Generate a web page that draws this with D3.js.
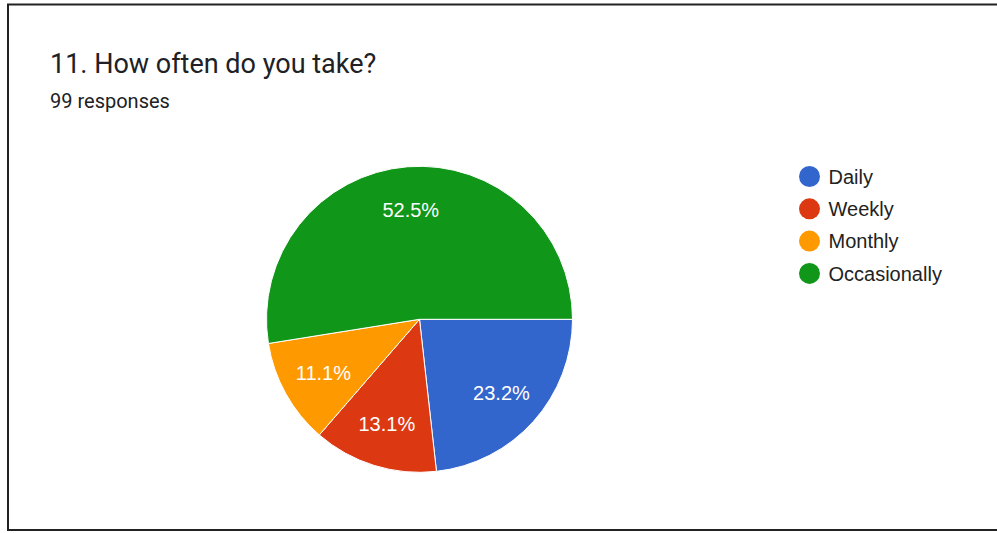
<!DOCTYPE html>
<html>
<head>
<meta charset="utf-8">
<script src="https://cdn.jsdelivr.net/npm/d3@7"></script>
<style>
  html, body { margin: 0; padding: 0; background: #fff; }
  svg { display: block; }
</style>
</head>
<body>
<svg id="chart" width="997" height="533"></svg>
<script>
// Survey answers
const categories = ["Daily", "Weekly", "Monthly", "Occasionally"];
const counts = [23, 13, 11, 52];
const colors = ["#3366cc", "#dc3912", "#ff9900", "#109618"];
const titleText = "11. How often do you take?";
const subtitleText = "99 responses";

const svg = d3.select("#chart");
const W = 997, H = 533;
const headFont = "Roboto, Arial, sans-serif";
const chartFont = "'Liberation Sans', Arial, sans-serif";

// Card frame
svg.append("rect")
  .attr("x", 8).attr("y", 4.5)
  .attr("width", W + 10).attr("height", 525.5)
  .attr("fill", "#fff").attr("stroke", "#222").attr("stroke-width", 2);

svg.append("text")
  .attr("x", 50).attr("y", 73)
  .attr("font-family", headFont)
  .attr("font-size", 27).attr("fill", "#202124")
  .text(titleText);

svg.append("text")
  .attr("x", 50).attr("y", 108)
  .attr("font-family", headFont)
  .attr("font-size", 20).attr("fill", "#202124")
  .text(subtitleText);

const total = d3.sum(counts);
const data = categories.map((c, i) => ({ name: c, value: counts[i], color: colors[i] }));

const cx = 419.5, cy = 319.3, R = 153;

const pie = d3.pie()
  .value(d => d.value)
  .sort(null)
  .startAngle(Math.PI / 2)
  .endAngle(Math.PI / 2 + 2 * Math.PI);

const arc = d3.arc().innerRadius(0).outerRadius(R);
const labelArc = d3.arc().innerRadius(110).outerRadius(110);

const g = svg.append("g").attr("transform", `translate(${cx},${cy})`);

const arcs = pie(data);

g.selectAll("path.slice")
  .data(arcs)
  .join("path")
  .attr("class", "slice")
  .attr("d", arc)
  .attr("fill", d => d.data.color)
  .attr("stroke", "#fff")
  .attr("stroke-width", 1);

g.selectAll("text.pct")
  .data(arcs)
  .join("text")
  .attr("class", "pct")
  .attr("transform", d => `translate(${labelArc.centroid(d)})`)
  .attr("text-anchor", "middle")
  .attr("dy", "0.35em")
  .attr("font-family", chartFont)
  .attr("font-size", 20)
  .attr("fill", "#fff")
  .text(d => (d.data.value / total * 100).toFixed(1) + "%");

// Legend
const legend = svg.append("g").attr("transform", "translate(809.5,176.5)");
const item = legend.selectAll("g")
  .data(data)
  .join("g")
  .attr("transform", (d, i) => `translate(0,${i * 32.3})`);

item.append("circle")
  .attr("r", 10.5)
  .attr("fill", d => d.color);

item.append("text")
  .attr("x", 19)
  .attr("dy", "0.36em")
  .attr("font-family", chartFont)
  .attr("font-size", 20)
  .attr("fill", "#222")
  .text(d => d.name);
</script>
</body>
</html>
